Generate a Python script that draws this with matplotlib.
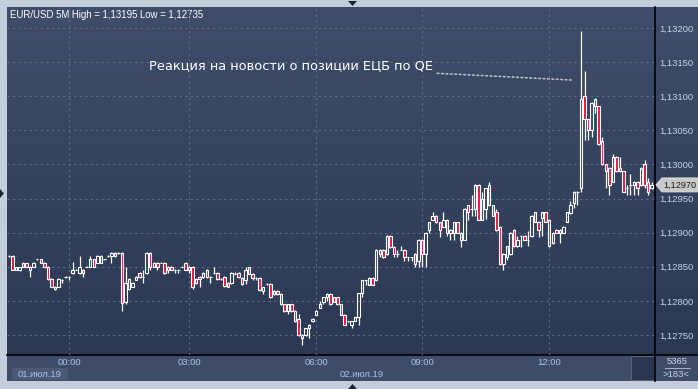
import numpy as np
import matplotlib
matplotlib.use("Agg")
import matplotlib.pyplot as plt
from matplotlib.patches import Rectangle, Polygon

plt.rcParams['font.family'] = ['Liberation Sans', 'DejaVu Sans']

# EUR/USD 5M candles (183 bars)
opens = [
    1.12866, 1.12866, 1.12846, 1.12845, 1.12856, 1.12856, 1.12846, 1.12850, 1.12861, 1.12861,
    1.12856, 1.12850, 1.12832, 1.12821, 1.12821, 1.12831, 1.12835, 1.12835, 1.12841, 1.12846,
    1.12841, 1.12846, 1.12850, 1.12850, 1.12861, 1.12856, 1.12866, 1.12861, 1.12866, 1.12866,
    1.12870, 1.12870, 1.12870, 1.12798, 1.12817, 1.12821, 1.12831, 1.12841, 1.12835, 1.12841,
    1.12870, 1.12856, 1.12856, 1.12856, 1.12856, 1.12850, 1.12850, 1.12846, 1.12846, 1.12850,
    1.12856, 1.12846, 1.12850, 1.12826, 1.12832, 1.12835, 1.12846, 1.12835, 1.12841, 1.12841,
    1.12832, 1.12835, 1.12826, 1.12826, 1.12840, 1.12841, 1.12834, 1.12830, 1.12849, 1.12840,
    1.12834, 1.12834, 1.12815, 1.12825, 1.12825, 1.12810, 1.12815, 1.12810, 1.12795, 1.12785,
    1.12795, 1.12785, 1.12774, 1.12750, 1.12750, 1.12760, 1.12770, 1.12780, 1.12790, 1.12799,
    1.12805, 1.12810, 1.12805, 1.12805, 1.12795, 1.12780, 1.12770, 1.12765, 1.12771, 1.12776,
    1.12811, 1.12830, 1.12824, 1.12834, 1.12830, 1.12875, 1.12875, 1.12869, 1.12895, 1.12879,
    1.12869, 1.12875, 1.12875, 1.12864, 1.12864, 1.12869, 1.12859, 1.12890, 1.12869, 1.12904,
    1.12919, 1.12925, 1.12915, 1.12909, 1.12919, 1.12900, 1.12900, 1.12915, 1.12900, 1.12890,
    1.12940, 1.12935, 1.12935, 1.12970, 1.12919, 1.12935, 1.12970, 1.12940, 1.12930, 1.12909,
    1.12854, 1.12864, 1.12869, 1.12904, 1.12880, 1.12895, 1.12895, 1.12890, 1.12895, 1.12930,
    1.12916, 1.12921, 1.12930, 1.12919, 1.12885, 1.12904, 1.12900, 1.12900, 1.12916, 1.12929,
    1.12943, 1.12960, 1.12965, 1.13100, 1.13066, 1.13050, 1.13096, 1.13085, 1.13035, 1.13000,
    1.12995, 1.12975, 1.13011, 1.12995, 1.12990, 1.12965, 1.12970, 1.12970, 1.12975, 1.12970,
    1.13001, 1.12975, 1.12965,
]
highs = [
    1.12868, 1.12867, 1.12850, 1.12850, 1.12857, 1.12856, 1.12851, 1.12857, 1.12862, 1.12862,
    1.12857, 1.12851, 1.12833, 1.12822, 1.12833, 1.12832, 1.12836, 1.12836, 1.12857, 1.12847,
    1.12866, 1.12847, 1.12851, 1.12866, 1.12862, 1.12867, 1.12867, 1.12862, 1.12867, 1.12871,
    1.12871, 1.12871, 1.12871, 1.12850, 1.12833, 1.12827, 1.12836, 1.12842, 1.12845, 1.12871,
    1.12871, 1.12857, 1.12857, 1.12857, 1.12857, 1.12851, 1.12851, 1.12847, 1.12847, 1.12851,
    1.12857, 1.12851, 1.12851, 1.12833, 1.12836, 1.12842, 1.12847, 1.12836, 1.12850, 1.12842,
    1.12833, 1.12836, 1.12827, 1.12842, 1.12842, 1.12842, 1.12835, 1.12849, 1.12850, 1.12841,
    1.12835, 1.12835, 1.12821, 1.12826, 1.12826, 1.12816, 1.12816, 1.12811, 1.12796, 1.12796,
    1.12796, 1.12786, 1.12781, 1.12751, 1.12761, 1.12766, 1.12775, 1.12786, 1.12800, 1.12806,
    1.12811, 1.12811, 1.12806, 1.12806, 1.12796, 1.12781, 1.12771, 1.12771, 1.12777, 1.12812,
    1.12831, 1.12831, 1.12835, 1.12835, 1.12876, 1.12876, 1.12876, 1.12896, 1.12896, 1.12880,
    1.12874, 1.12880, 1.12876, 1.12865, 1.12865, 1.12870, 1.12891, 1.12891, 1.12901, 1.12916,
    1.12930, 1.12926, 1.12916, 1.12930, 1.12920, 1.12905, 1.12916, 1.12916, 1.12901, 1.12936,
    1.12941, 1.12955, 1.12971, 1.12971, 1.12960, 1.12966, 1.12975, 1.12941, 1.12935, 1.12910,
    1.12870, 1.12881, 1.12901, 1.12905, 1.12895, 1.12896, 1.12896, 1.12903, 1.12926, 1.12931,
    1.12917, 1.12931, 1.12931, 1.12920, 1.12901, 1.12905, 1.12905, 1.12910, 1.12931, 1.12946,
    1.12961, 1.12961, 1.13196, 1.13137, 1.13067, 1.13091, 1.13097, 1.13086, 1.13040, 1.13001,
    1.12996, 1.13016, 1.13012, 1.13011, 1.12991, 1.12970, 1.12986, 1.12976, 1.12976, 1.12996,
    1.13006, 1.12980, 1.12975,
]
lows = [
    1.12864, 1.12845, 1.12846, 1.12844, 1.12849, 1.12849, 1.12835, 1.12850, 1.12860, 1.12856,
    1.12850, 1.12831, 1.12820, 1.12816, 1.12820, 1.12826, 1.12834, 1.12830, 1.12840, 1.12845,
    1.12840, 1.12835, 1.12849, 1.12849, 1.12849, 1.12855, 1.12855, 1.12860, 1.12865, 1.12856,
    1.12865, 1.12869, 1.12785, 1.12796, 1.12816, 1.12820, 1.12830, 1.12834, 1.12826, 1.12840,
    1.12845, 1.12849, 1.12845, 1.12855, 1.12840, 1.12841, 1.12845, 1.12841, 1.12841, 1.12849,
    1.12845, 1.12841, 1.12817, 1.12825, 1.12821, 1.12834, 1.12834, 1.12826, 1.12840, 1.12831,
    1.12831, 1.12821, 1.12820, 1.12825, 1.12839, 1.12834, 1.12824, 1.12825, 1.12839, 1.12830,
    1.12830, 1.12815, 1.12810, 1.12824, 1.12804, 1.12809, 1.12809, 1.12794, 1.12784, 1.12781,
    1.12784, 1.12769, 1.12749, 1.12735, 1.12749, 1.12745, 1.12769, 1.12779, 1.12789, 1.12795,
    1.12800, 1.12794, 1.12798, 1.12794, 1.12779, 1.12764, 1.12769, 1.12760, 1.12770, 1.12765,
    1.12806, 1.12824, 1.12823, 1.12823, 1.12829, 1.12864, 1.12863, 1.12868, 1.12878, 1.12864,
    1.12864, 1.12874, 1.12858, 1.12858, 1.12858, 1.12849, 1.12849, 1.12849, 1.12849, 1.12900,
    1.12918, 1.12914, 1.12894, 1.12908, 1.12895, 1.12890, 1.12890, 1.12899, 1.12879, 1.12889,
    1.12919, 1.12925, 1.12925, 1.12918, 1.12918, 1.12920, 1.12939, 1.12924, 1.12903, 1.12853,
    1.12845, 1.12860, 1.12868, 1.12879, 1.12879, 1.12879, 1.12889, 1.12880, 1.12894, 1.12915,
    1.12894, 1.12895, 1.12915, 1.12879, 1.12884, 1.12899, 1.12885, 1.12899, 1.12915, 1.12928,
    1.12936, 1.12941, 1.12960, 1.13036, 1.13036, 1.13040, 1.13075, 1.13029, 1.12999, 1.12965,
    1.12955, 1.12974, 1.12989, 1.12989, 1.12959, 1.12955, 1.12955, 1.12955, 1.12955, 1.12969,
    1.12965, 1.12955, 1.12964,
]
closes = [
    1.12866, 1.12846, 1.12849, 1.12849, 1.12850, 1.12850, 1.12850, 1.12856, 1.12861, 1.12856,
    1.12850, 1.12832, 1.12821, 1.12817, 1.12832, 1.12831, 1.12835, 1.12835, 1.12846, 1.12846,
    1.12850, 1.12841, 1.12850, 1.12861, 1.12850, 1.12866, 1.12856, 1.12861, 1.12866, 1.12870,
    1.12866, 1.12870, 1.12797, 1.12826, 1.12832, 1.12826, 1.12835, 1.12835, 1.12835, 1.12870,
    1.12850, 1.12850, 1.12850, 1.12856, 1.12841, 1.12845, 1.12846, 1.12846, 1.12846, 1.12850,
    1.12846, 1.12850, 1.12821, 1.12832, 1.12835, 1.12841, 1.12835, 1.12835, 1.12841, 1.12832,
    1.12832, 1.12822, 1.12821, 1.12841, 1.12840, 1.12835, 1.12825, 1.12845, 1.12840, 1.12834,
    1.12834, 1.12816, 1.12820, 1.12825, 1.12805, 1.12815, 1.12810, 1.12795, 1.12785, 1.12795,
    1.12785, 1.12770, 1.12750, 1.12745, 1.12760, 1.12765, 1.12774, 1.12785, 1.12795, 1.12805,
    1.12810, 1.12795, 1.12799, 1.12795, 1.12780, 1.12765, 1.12770, 1.12771, 1.12776, 1.12811,
    1.12830, 1.12830, 1.12834, 1.12824, 1.12875, 1.12869, 1.12864, 1.12895, 1.12879, 1.12869,
    1.12869, 1.12875, 1.12864, 1.12864, 1.12864, 1.12854, 1.12890, 1.12869, 1.12900, 1.12915,
    1.12925, 1.12915, 1.12904, 1.12919, 1.12900, 1.12904, 1.12915, 1.12900, 1.12890, 1.12935,
    1.12930, 1.12935, 1.12970, 1.12919, 1.12950, 1.12965, 1.12940, 1.12925, 1.12904, 1.12854,
    1.12869, 1.12880, 1.12900, 1.12880, 1.12890, 1.12895, 1.12890, 1.12890, 1.12925, 1.12916,
    1.12904, 1.12930, 1.12916, 1.12880, 1.12900, 1.12900, 1.12904, 1.12909, 1.12930, 1.12941,
    1.12960, 1.12960, 1.13096, 1.13066, 1.13050, 1.13090, 1.13085, 1.13030, 1.13000, 1.12990,
    1.12970, 1.13011, 1.12990, 1.12990, 1.12960, 1.12965, 1.12970, 1.12975, 1.12965, 1.12995,
    1.12970, 1.12960, 1.12970,
]

price_levels = [1.1275, 1.1280, 1.1285, 1.1290, 1.1295, 1.1300, 1.1305, 1.1310, 1.1315, 1.1320]
time_ticks = [17, 51, 87, 117, 153]
time_labels = ["00:00", "03:00", "06:00", "09:00", "12:00"]
title = "EUR/USD 5M High = 1,13195 Low = 1,12735"
note = "Реакция на новости о позиции ЕЦБ по QE"

W, H = 698, 389
fig = plt.figure(figsize=(W / 100, H / 100), dpi=100)
fig.patch.set_facecolor('#c4cedb')


def px_box(x0, y0, x1, y1):
    return [x0 / W, 1 - y1 / H, (x1 - x0) / W, (y1 - y0) / H]


# background layer in pixel coords (y down)
bg = fig.add_axes([0, 0, 1, 1])
bg.axis('off')
top_c = np.array([0x3e, 0x4d, 0x69]) / 255
bot_c = np.array([0x2b, 0x38, 0x53]) / 255
t = np.linspace(0, 1, 256)[:, None, None]
grad = top_c * (1 - t) + bot_c * t
bg.imshow(grad, extent=[7, 698, 355, 7], aspect='auto', interpolation='bilinear', zorder=0)
bg.add_patch(Rectangle((7, 355), 691, 26, fc='#3e4c68', ec='none', zorder=1))
bg.add_patch(Rectangle((12, 368), 56, 12, fc='#4b5975', ec='none', zorder=2))
bg.add_patch(Rectangle((631, 356), 23, 24, fc='#2a3650', ec='#56627a', lw=0.8, zorder=2))
bg.plot([655, 655], [7, 381], color='black', lw=1.2, zorder=3)
bg.plot([7, 698], [355, 355], color='black', lw=1.2, zorder=3)
bg.add_patch(Polygon([(348, 1), (357, 1), (352.5, 6)], fc='#1e2533', ec='none'))
bg.add_patch(Polygon([(348, 389), (357, 389), (352.5, 384)], fc='#1e2533', ec='none'))
bg.add_patch(Polygon([(0, 189), (0, 198), (4, 193.5)], fc='#1e2533', ec='none'))
bg.set_xlim(0, W)
bg.set_ylim(H, 0)

bg.text(10, 14.5, title, color='white', fontsize=6.9, ha='left', va='center', zorder=5)
bg.text(40, 374.5, "01.июл.19", color='#a8c4ee', fontsize=6.8, ha='center', va='center', zorder=5)
bg.text(362, 374.5, "02.июл.19", color='#a8c4ee', fontsize=6.8, ha='center', va='center', zorder=5)
bg.text(677, 361.5, "5365", color='#c8d4e6', fontsize=6.8, ha='center', va='center', zorder=5)
bg.plot([665, 690], [368, 368], color='#9fb0c8', lw=0.8, zorder=5)
bg.text(676, 374.5, ">183<", color='#c8d4e6', fontsize=6.8, ha='center', va='center', zorder=5)

# candle chart
ax = fig.add_axes(px_box(7, 7, 655, 355))
ax.set_facecolor('none')
for s in ax.spines.values():
    s.set_visible(False)

o = np.array(opens)
h = np.array(highs)
l = np.array(lows)
c = np.array(closes)
x = np.arange(len(o))
up = c >= o
body_lo = np.minimum(o, c)
body_hi = np.maximum(o, c)

for lvl in price_levels:
    ax.axhline(lvl, color='#5d6c89', lw=0.8, ls=(0, (2, 3)), zorder=1)
for tk in time_ticks:
    ax.axvline(tk, color='#5d6c89', lw=0.8, ls=(0, (2, 3)), zorder=1)

ax.vlines(x, body_hi, h, color='white', lw=0.9, zorder=2)
ax.vlines(x, l, body_lo, color='white', lw=0.9, zorder=2)
ax.bar(x, body_hi - body_lo, bottom=body_lo, width=0.7,
       color=['none' if u else '#e3173f' for u in up],
       edgecolor='white', linewidth=0.8, zorder=3)

ax.set_xlim(-0.57, 182.95)
ax.set_ylim(1.127207, 1.132308)

ax.yaxis.tick_right()
ax.set_yticks(price_levels)
ax.set_yticklabels([f"{v:.5f}".replace('.', ',') for v in price_levels])
ax.tick_params(axis='y', length=0, pad=3, labelsize=6.8, labelcolor='#c5d3e8')
ax.set_xticks(time_ticks)
ax.set_xticklabels(time_labels)
ax.tick_params(axis='x', length=0, pad=2.5, labelsize=6.8, labelcolor='#a8c4ee')

ax.annotate(note, xy=(159.2, 1.131238), xytext=(120.1, 1.131443),
            ha='right', va='center', color='white', fontsize=9.4,
            family=['DejaVu Sans'],
            arrowprops=dict(arrowstyle='-', color='#b8bcc4', ls=':', lw=1.2,
                            shrinkA=1, shrinkB=0))

# current price tag
fig.canvas.draw()
y_tag = H - ax.transData.transform((0, closes[-1]))[1]
bg.add_patch(Polygon([(656, y_tag), (662, y_tag - 7), (698, y_tag - 7), (698, y_tag + 7), (662, y_tag + 7)],
                     fc='#c9c9c9', ec='#e6e6e6', lw=0.6, zorder=6))
bg.text(663, y_tag, f"{closes[-1]:.5f}".replace('.', ','), color='#1a1a1a', fontsize=6.6,
        ha='left', va='center', zorder=7)
bg.set_xlim(0, W)
bg.set_ylim(H, 0)

fig.savefig("out.png", dpi=100, facecolor=fig.get_facecolor())
